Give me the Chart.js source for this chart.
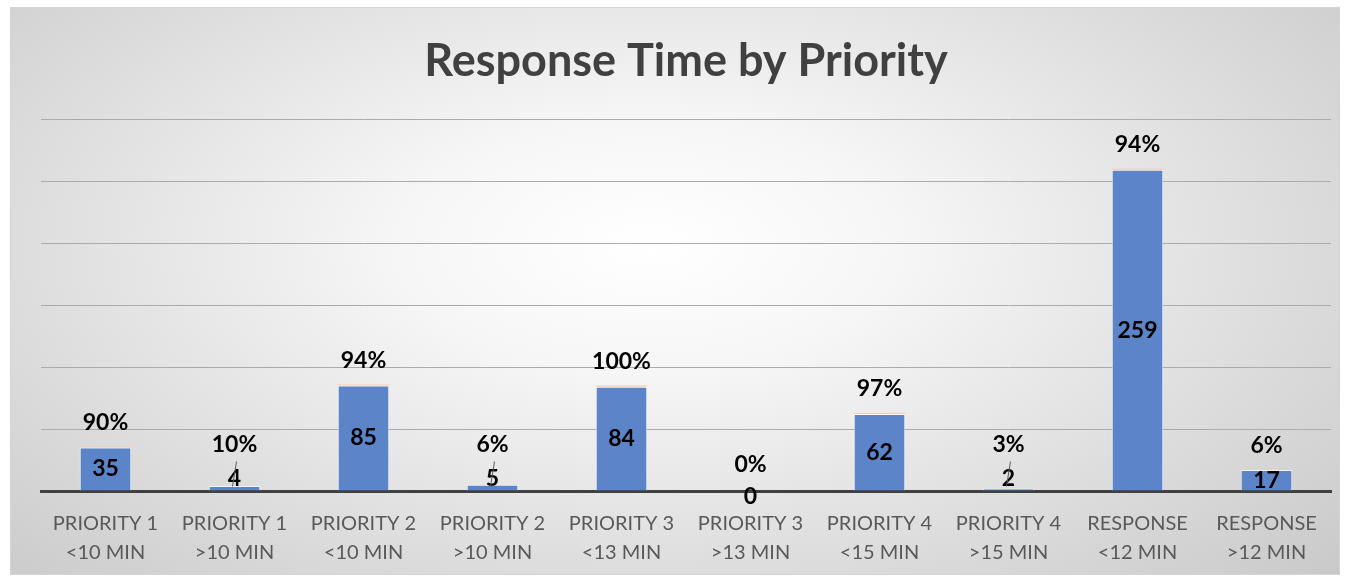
<!DOCTYPE html>
<html>
<head>
<meta charset="utf-8">
<script src="https://cdn.jsdelivr.net/npm/chart.js@4.4.1/dist/chart.umd.min.js"></script>
<style>
  html, body { margin: 0; padding: 0; background: #ffffff; }
  #wrap {
    position: absolute; left: 10px; top: 7px; width: 1330px; height: 568px;
    box-sizing: border-box; border: 1px solid #d4d4d4;
    background: radial-gradient(ellipse 75% 90% at 48% 42%, #ffffff 0%, #f6f6f6 25%, #dcdcdc 65%, #c6c6c6 100%);
  }
  canvas { display: block; }
</style>
</head>
<body>
<div id="wrap"><canvas id="responseChart" width="1328" height="566"></canvas></div>
<script>
const categories = [
    ['PRIORITY 1', '<10 MIN'], ['PRIORITY 1', '>10 MIN'],
    ['PRIORITY 2', '<10 MIN'], ['PRIORITY 2', '>10 MIN'],
    ['PRIORITY 3', '<13 MIN'], ['PRIORITY 3', '>13 MIN'],
    ['PRIORITY 4', '<15 MIN'], ['PRIORITY 4', '>15 MIN'],
    ['RESPONSE', '<12 MIN'], ['RESPONSE', '>12 MIN']
];
const callCounts = [35, 4, 85, 5, 84, 0, 62, 2, 259, 17];
const shareOfCalls = [0.90, 0.10, 0.94, 0.06, 1.00, 0.00, 0.97, 0.03, 0.94, 0.06];

// draws the count and percent labels the way the original sheet placed them
const barLabels = {
    id: 'barLabels',
    afterDatasetsDraw(chart) {
        const ctx = chart.ctx;
        const counts = chart.getDatasetMeta(0).data;
        const tops = chart.getDatasetMeta(1).data;
        ctx.save();
        ctx.fillStyle = '#000000';
        ctx.font = 'bold 23px Lato';
        ctx.textAlign = 'center';
        ctx.textBaseline = 'middle';
        counts.forEach((bar, i) => {
            const h = bar.base - bar.y;
            const top = tops[i].y;
            const pct = Math.round(shareOfCalls[i] * 100) + '%';
            if (h > 15) {
                ctx.fillText(callCounts[i], bar.x, (bar.y + bar.base) / 2);
                ctx.fillText(pct, bar.x, top - 24);
            } else if (callCounts[i] === 0) {
                ctx.fillText(callCounts[i], bar.x, bar.base + 6);
                ctx.fillText(pct, bar.x, bar.base - 26);
            } else {
                ctx.fillText(callCounts[i], bar.x, bar.base - 12);
                ctx.fillText(pct, bar.x, bar.base - 46);
                ctx.strokeStyle = '#595959';
                ctx.lineWidth = 1;
                ctx.beginPath();
                ctx.moveTo(bar.x + 2, bar.base - 29);
                ctx.lineTo(bar.x - 2, bar.base - 4);
                ctx.stroke();
            }
        });
        ctx.restore();
    }
};

new Chart(document.getElementById('responseChart'), {
    type: 'bar',
    data: {
        labels: categories,
        datasets: [{
            label: 'Calls',
            data: callCounts,
            backgroundColor: '#5b84c9',
            borderColor: 'rgba(255,255,255,0.7)',
            borderWidth: 1,
            stack: 'calls'
        }, {
            label: 'Share',
            data: shareOfCalls,
            backgroundColor: '#f8cbad',
            borderWidth: 0,
            stack: 'calls'
        }]
    },
    options: {
        responsive: false,
        animation: false,
        categoryPercentage: 1,
        barPercentage: 0.4,
        layout: { padding: { left: 30, right: 8, bottom: 0 } },
        plugins: {
            legend: { display: false },
            tooltip: { enabled: false },
            title: {
                display: true,
                text: 'Response Time by Priority',
                color: '#404040',
                font: { family: 'Lato', size: 45, weight: 'bold', lineHeight: 1.2 },
                padding: { top: 26, bottom: 31 }
            }
        },
        scales: {
            x: {
                stacked: true,
                grid: { display: false },
                border: { color: '#404040', width: 3 },
                afterFit(scale) { scale.height = 83; },
                ticks: {
                    color: '#595959',
                    padding: 10,
                    maxRotation: 0,
                    autoSkip: false,
                    font: { family: 'Lato', size: 20, lineHeight: 1.45 }
                }
            },
            y: {
                stacked: true,
                min: 0,
                max: 300,
                ticks: { display: false, stepSize: 50 },
                grid: { color: '#ababab', drawTicks: false },
                border: { display: false }
            }
        }
    },
    plugins: [barLabels]
});
</script>
</body>
</html>
